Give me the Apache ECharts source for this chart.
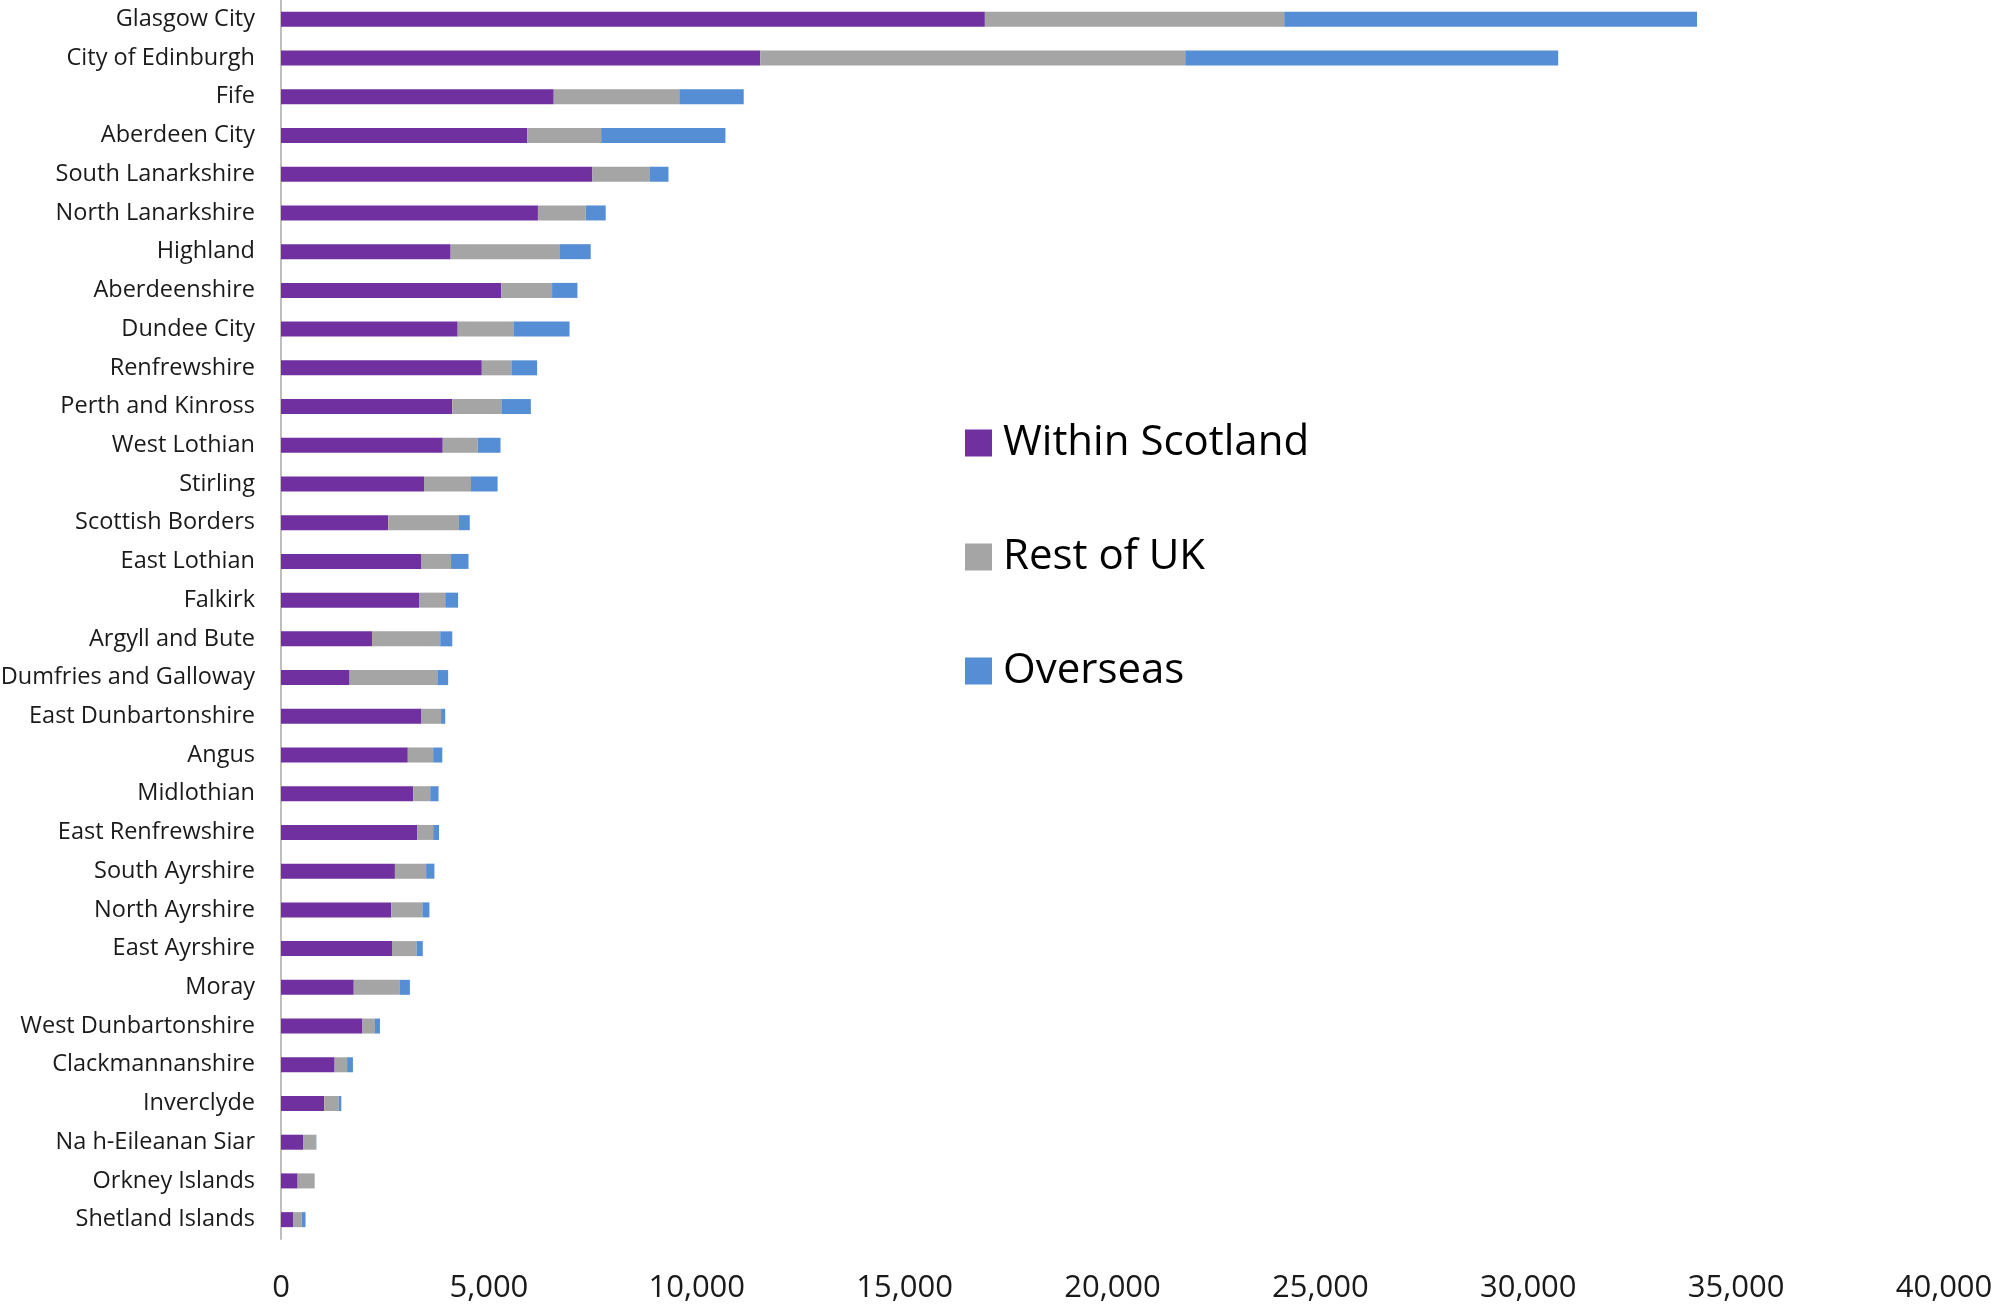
<!DOCTYPE html>
<html>
<head>
<meta charset="utf-8">
<script src="https://cdn.jsdelivr.net/npm/echarts@6/dist/echarts.min.js"></script>
<style>
html,body{margin:0;padding:0;background:#fff;}
#chart{width:1993px;height:1307px;}
</style>
</head>
<body>
<div id="chart"></div>
<script>
const categories = ["Glasgow City","City of Edinburgh","Fife","Aberdeen City","South Lanarkshire","North Lanarkshire","Highland","Aberdeenshire","Dundee City","Renfrewshire","Perth and Kinross","West Lothian","Stirling","Scottish Borders","East Lothian","Falkirk","Argyll and Bute","Dumfries and Galloway","East Dunbartonshire","Angus","Midlothian","East Renfrewshire","South Ayrshire","North Ayrshire","East Ayrshire","Moray","West Dunbartonshire","Clackmannanshire","Inverclyde","Na h-Eileanan Siar","Orkney Islands","Shetland Islands"];
const withinScotland = [16930,11530,6560,5920,7490,6180,4080,5300,4250,4830,4120,3890,3440,2580,3380,3320,2190,1650,3380,3050,3180,3280,2740,2650,2670,1750,1960,1290,1040,530,400,300];
const restOfUK = [7200,10220,3020,1780,1370,1150,2630,1220,1340,710,1180,840,1130,1700,710,630,1640,2110,470,610,410,380,750,750,590,1110,300,300,350,310,410,200];
const overseas = [9930,8970,1550,2990,460,480,740,610,1350,620,710,550,640,260,420,310,290,260,100,220,200,140,200,170,150,240,120,140,60,10,0,90];
const seriesNames = ["Within Scotland","Rest of UK","Overseas"];
const colors = ["#7030A0","#A5A5A5","#558ED5"];
const xTicks = {min:0, max:40000, interval:5000};

const chart = echarts.init(document.getElementById('chart'));
const fontFamily = '"Open Sans", "Noto Sans", sans-serif';
const valuesList = [withinScotland, restOfUK, overseas];
chart.setOption({
  animation:false,
  backgroundColor:'#ffffff',
  textStyle:{fontFamily:fontFamily},
  grid:{left:281, right:49, top:0, bottom:68, containLabel:false, outerBoundsMode:'none'},
  legend:{
    orient:'vertical', left:960, top:417,
    itemWidth:27, itemHeight:27, itemGap:72, icon:'rect',
    textStyle:{fontSize:42, lineHeight:42, color:'#000', fontFamily:fontFamily, padding:[0,0,0,6]},
    data:seriesNames
  },
  xAxis:{
    type:'value', min:xTicks.min, max:xTicks.max, interval:xTicks.interval,
    axisLine:{show:false}, axisTick:{show:false}, splitLine:{show:false},
    axisLabel:{fontSize:31, color:'#1a1a1a', margin:34, fontFamily:fontFamily,
      formatter:function(v){return v.toLocaleString('en-US');}}
  },
  yAxis:{
    type:'category', data:categories, inverse:true,
    axisLine:{show:true, lineStyle:{color:'#BFBFBF', width:2}},
    axisTick:{show:false},
    axisLabel:{fontSize:23.5, color:'#1a1a1a', margin:26, fontFamily:fontFamily}
  },
  series: seriesNames.map(function(name,i){
    return {name:name, type:'bar', stack:'total', data:valuesList[i], barWidth:15,
      itemStyle:{color:colors[i]}};
  })
});
</script>
</body>
</html>
